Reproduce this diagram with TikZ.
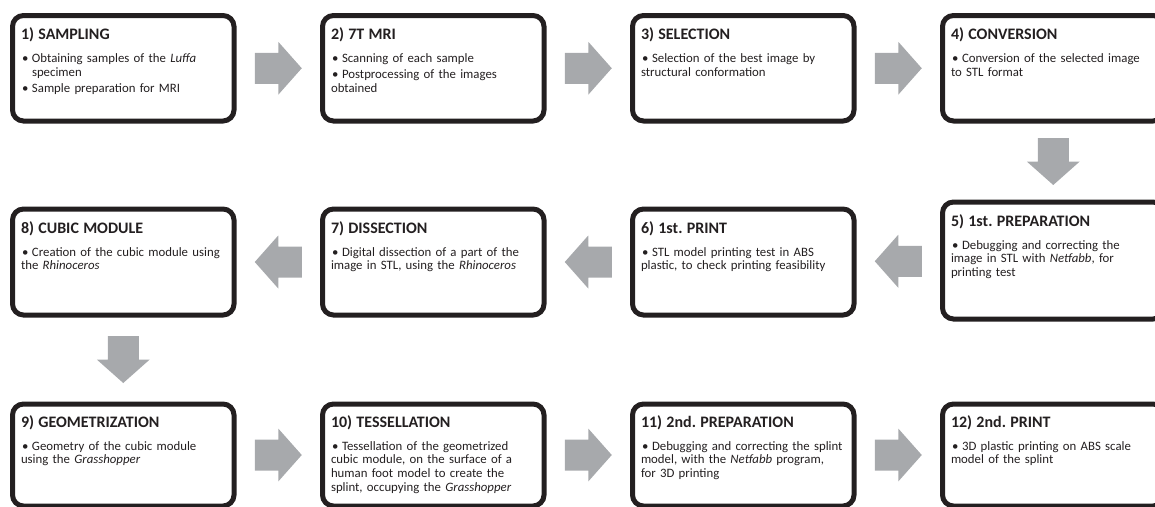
\documentclass[tikz,border=0pt]{standalone}
\usepackage{fontspec}
\setmainfont{Carlito}
\frenchspacing
\definecolor{boxline}{RGB}{35,31,32}
\definecolor{arrowgray}{RGB}{167,169,172}
\newcommand{\btitle}[1]{{\fontsize{16}{19}\selectfont\bfseries #1\par}\vspace{7pt}}
\newcommand{\bitem}[1]{\par\hangindent=11pt\hangafter=1\noindent\makebox[11pt][l]{\hspace{1pt}\textbullet}#1}
\tikzset{
  stepbox/.style={draw=boxline, line width=5pt, rounded corners=11pt, minimum width=221.5pt, inner sep=0pt, outer sep=0pt},
  steptext/.style={anchor=base west, text width=240pt, inner sep=0pt, outer sep=0pt, text=boxline,
    font=\fontsize{12.8}{13.7}\selectfont, execute at begin node={\setlength{\parskip}{2.5pt}\setlength{\parindent}{0pt}}},
  pics/blockarrow/.style={code={
    \fill[arrowgray] (-23.5,-15.5) -- (0,-15.5) -- (0,-26.5) -- (23.5,0) -- (0,26.5) -- (0,15.5) -- (-23.5,15.5) -- cycle;}}
}
\begin{document}
\begin{tikzpicture}[x=1pt,y=1pt]
\useasboundingbox (0,0) rectangle (1155,-506);
\clip (0,0) rectangle (1155,-506);
% row 1
\node[stepbox, minimum height=105.5pt] (b1) at (123.25,-68.25) {};
\node[stepbox, minimum height=105.5pt] (b2) at (433.25,-68.25) {};
\node[stepbox, minimum height=105.5pt] (b3) at (743.25,-68.25) {};
\node[stepbox, minimum height=105.5pt] (b4) at (1053.25,-68.25) {};
% row 2
\node[stepbox, minimum height=117pt] (b5) at (1053.25,-260.5) {};
\node[stepbox, minimum height=106pt] (b6) at (743.25,-262) {};
\node[stepbox, minimum height=106pt] (b7) at (433.25,-262) {};
\node[stepbox, minimum height=106pt] (b8) at (123.25,-262) {};
% row 3
\node[stepbox, minimum height=102pt] (b9) at (123.25,-455) {};
\node[stepbox, minimum height=102pt] (b10) at (433.25,-455) {};
\node[stepbox, minimum height=102pt] (b11) at (743.25,-455) {};
\node[stepbox, minimum height=102pt] (b12) at (1053.25,-455) {};
% texts
\node[steptext] (t1) at ([shift={(8.5,-24)}]b1.north west) {\btitle{1) SAMPLING}\bitem{Obtaining samples of the \textit{Luffa}\newline specimen}\bitem{Sample preparation for MRI}};
\node[steptext] (t2) at ([shift={(8.5,-24)}]b2.north west) {\btitle{2) 7T MRI}\bitem{Scanning of each sample}\bitem{Postprocessing of the images\newline obtained}};
\node[steptext] (t3) at ([shift={(8.5,-24)}]b3.north west) {\btitle{3) SELECTION}\bitem{Selection of the best image by\newline structural conformation}};
\node[steptext] (t4) at ([shift={(8.5,-24)}]b4.north west) {\btitle{4) CONVERSION}\bitem{Conversion of the selected image\newline to STL format}};
\node[steptext] (t5) at ([shift={(8.5,-24)}]b5.north west) {\btitle{5) 1st. PREPARATION}\bitem{Debugging and correcting the\newline image in STL with \textit{Netfabb}, for\newline printing test}};
\node[steptext] (t6) at ([shift={(8.5,-24)}]b6.north west) {\btitle{6) 1st. PRINT}\bitem{STL model printing test in ABS\newline plastic, to check printing feasibility}};
\node[steptext] (t7) at ([shift={(8.5,-24)}]b7.north west) {\btitle{7) DISSECTION}\bitem{Digital dissection of a part of the\newline image in STL, using the \textit{Rhinoceros}}};
\node[steptext] (t8) at ([shift={(8.5,-24)}]b8.north west) {\btitle{8) CUBIC MODULE}\bitem{Creation of the cubic module using\newline the \textit{Rhinoceros}}};
\node[steptext] (t9) at ([shift={(8.5,-23)}]b9.north west) {\btitle{9) GEOMETRIZATION}\bitem{Geometry of the cubic module\newline using the \textit{Grasshopper}}};
\node[steptext] (t10) at ([shift={(8.5,-23)}]b10.north west) {\btitle{10) TESSELLATION}\bitem{Tessellation of the geometrized\newline cubic module, on the surface of a\newline human foot model to create the\newline splint, occupying the \textit{Grasshopper}}};
\node[steptext] (t11) at ([shift={(8.5,-23)}]b11.north west) {\btitle{11) 2nd. PREPARATION}\bitem{Debugging and correcting the splint\newline model, with the \textit{Netfabb} program,\newline for 3D printing}};
\node[steptext] (t12) at ([shift={(8.5,-23)}]b12.north west) {\btitle{12) 2nd. PRINT}\bitem{3D plastic printing on ABS scale\newline model of the splint}};
% arrows
\path (b1.east) -- (b2.west) coordinate[midway] (a12);
\path (b2.east) -- (b3.west) coordinate[midway] (a23);
\path (b3.east) -- (b4.west) coordinate[midway] (a34);
\path (b4.south) -- (b5.north) coordinate[midway] (a45);
\path (b5.west) -- (b6.east) coordinate[midway] (a56);
\path (b6.west) -- (b7.east) coordinate[midway] (a67);
\path (b7.west) -- (b8.east) coordinate[midway] (a78);
\path (b8.south) -- (b9.north) coordinate[midway] (a89);
\path (b9.east) -- (b10.west) coordinate[midway] (a910);
\path (b10.east) -- (b11.west) coordinate[midway] (a1011);
\path (b11.east) -- (b12.west) coordinate[midway] (a1112);
\pic at (a12) {blockarrow};
\pic at (a23) {blockarrow};
\pic at (a34) {blockarrow};
\pic[rotate=-90] at (a45) {blockarrow};
\pic[rotate=180] at (a56) {blockarrow};
\pic[rotate=180] at (a67) {blockarrow};
\pic[rotate=180] at (a78) {blockarrow};
\pic[rotate=-90] at (a89) {blockarrow};
\pic at (a910) {blockarrow};
\pic at (a1011) {blockarrow};
\pic at (a1112) {blockarrow};
\end{tikzpicture}
\end{document}
